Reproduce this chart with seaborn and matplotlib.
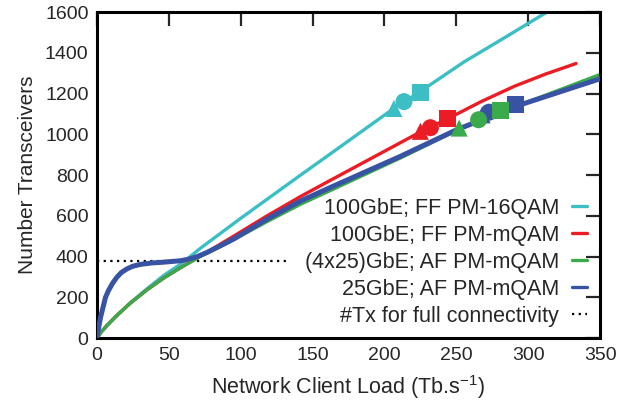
import numpy as np
import pandas as pd
import matplotlib
import matplotlib.pyplot as plt
import seaborn as sns

matplotlib.use('agg')

# Series labels (legend order) and colours
labels = ['100GbE; FF PM-16QAM', '100GbE; FF PM-mQAM',
          '(4x25)GbE; AF PM-mQAM', '25GbE; AF PM-mQAM']
colors = ['#3cbfc4', '#ec1c24', '#3baa4a', '#3953a4']

# Curves (load in Tb/s, number of transceivers)
cyan_x = [0, 3, 7, 14, 23, 35, 46.5, 58, 61, 71.8, 100, 141.6, 162.5, 206.6,
          224, 255.4, 278.7, 299.6, 313]
cyan_y = [0, 30, 62, 112, 172, 243, 308, 362, 378, 440, 588, 800, 905, 1128,
          1206, 1356, 1454, 1543, 1600]

red_x = [0, 3, 7, 14, 23, 35, 46.5, 58, 71.8, 95, 118.3, 141.6, 162.5, 211.3,
         225, 232, 243.5, 267, 290.3, 312, 333.3]
red_y = [0, 30, 62, 112, 170, 238, 295, 345, 402, 500, 600, 695, 775, 960,
         1012, 1036, 1075, 1160, 1236, 1296, 1348]

green_x = [0, 3, 7, 14, 23, 35, 46.5, 58, 71.8, 95, 118.3, 141.6, 162.5, 211.3,
           252, 280.5, 350]
green_y = [0, 30, 62, 112, 170, 238, 295, 345, 400, 483, 572, 657, 725, 885,
           1025, 1108, 1294]

blue_x = [0, 1.2, 2.5, 4.6, 6, 8.1, 11, 13.9, 17, 20.9, 25, 30.2, 38, 46.5,
          58.1, 64, 69.7, 76.7, 85, 95, 118.3, 141.6, 162.5, 211.3, 250, 290, 350]
blue_y = [0, 50, 100, 160, 200, 234, 270, 299, 322, 340, 353, 362, 369, 373,
          380, 388, 400, 421, 450, 486, 584, 673, 740, 893, 1022, 1135, 1273]

# Markers on each curve: triangle, circle, square
cyan_mx, cyan_my = [206.6, 213.6, 225], [1127, 1161, 1208]
red_mx, red_my = [225, 232, 244], [1015, 1033, 1079]
green_mx, green_my = [252, 265.5, 280.5], [1031, 1072, 1117]
blue_mx, blue_my = [268, 272.8, 291.5], [1096, 1109, 1148]
marker_kinds = ['tri', 'circ', 'sq']

# Full connectivity threshold
full_conn_x = [0, 134.6]
full_conn_y = [378, 378]

curves = pd.concat([
    pd.DataFrame({'load': cyan_x, 'tx': cyan_y, 'series': labels[0]}),
    pd.DataFrame({'load': red_x, 'tx': red_y, 'series': labels[1]}),
    pd.DataFrame({'load': green_x, 'tx': green_y, 'series': labels[2]}),
    pd.DataFrame({'load': blue_x, 'tx': blue_y, 'series': labels[3]}),
], ignore_index=True)

points = pd.concat([
    pd.DataFrame({'load': cyan_mx, 'tx': cyan_my, 'series': labels[0], 'kind': marker_kinds}),
    pd.DataFrame({'load': red_mx, 'tx': red_my, 'series': labels[1], 'kind': marker_kinds}),
    pd.DataFrame({'load': blue_mx, 'tx': blue_my, 'series': labels[3], 'kind': marker_kinds}),
    pd.DataFrame({'load': green_mx, 'tx': green_my, 'series': labels[2], 'kind': marker_kinds}),
], ignore_index=True)

sns.set_style('white')
plt.rcParams['font.family'] = ['Liberation Sans', 'DejaVu Sans']
plt.rcParams['mathtext.fontset'] = 'custom'
plt.rcParams['mathtext.rm'] = 'Liberation Sans'

fig = plt.figure(figsize=(6.33, 4.05), dpi=100)
ax = fig.add_axes([0.153, 0.165, 0.795, 0.805])

palette = dict(zip(labels, colors))
sns.lineplot(data=curves, x='load', y='tx', hue='series', palette=palette,
             hue_order=labels, sort=False, estimator=None, ax=ax, legend=False,
             linewidth=2.4, zorder=2)
# blue curve is drawn thicker
ax.lines[-1].set_linewidth(3.6)
ax.lines[-1].set_zorder(3)
for ln in ax.lines:
    ln.set_solid_joinstyle('round')

sns.scatterplot(data=points, x='load', y='tx', hue='series', palette=palette,
                style='kind', markers={'tri': '^', 'circ': 'o', 'sq': 's'},
                s=150, linewidth=0, ax=ax, legend=False, zorder=4)

ax.plot(full_conn_x, full_conn_y, color='black', linestyle=(0, (1, 2)),
        linewidth=1.6, zorder=1)

# gnuplot-like legend: text right-aligned, short line after it
handles = [plt.Line2D([], [], color=c, lw=2.4) for c in colors]
handles.append(plt.Line2D([], [], color='black', lw=1.6, linestyle=(0, (1, 2))))
leg = ax.legend(handles, labels + ['#Tx for full connectivity'], loc='lower right',
                bbox_to_anchor=(1.0, -0.005), frameon=False, markerfirst=False,
                handlelength=0.7, handletextpad=0.6, labelspacing=0.28,
                fontsize=15.5, borderaxespad=0.2)
for t in leg.get_texts():
    t.set_ha('right')
leg._legend_box.align = 'right'

ax.set_xlim(0, 350)
ax.set_ylim(0, 1600)
ax.set_xticks(np.arange(0, 351, 50))
ax.set_yticks(np.arange(0, 1601, 200))
ax.tick_params(direction='in', length=10, width=1.6, labelsize=14,
               top=True, right=True, pad=6)
for s in ax.spines.values():
    s.set_linewidth(2.2)
    s.set_color('black')

ax.set_xlabel('Network Client Load (Tb.s$^{-1}$)', fontsize=15.5, labelpad=7)
ax.set_ylabel('Number Transceivers', fontsize=15, labelpad=6)

fig.savefig('out.png', dpi=100)
